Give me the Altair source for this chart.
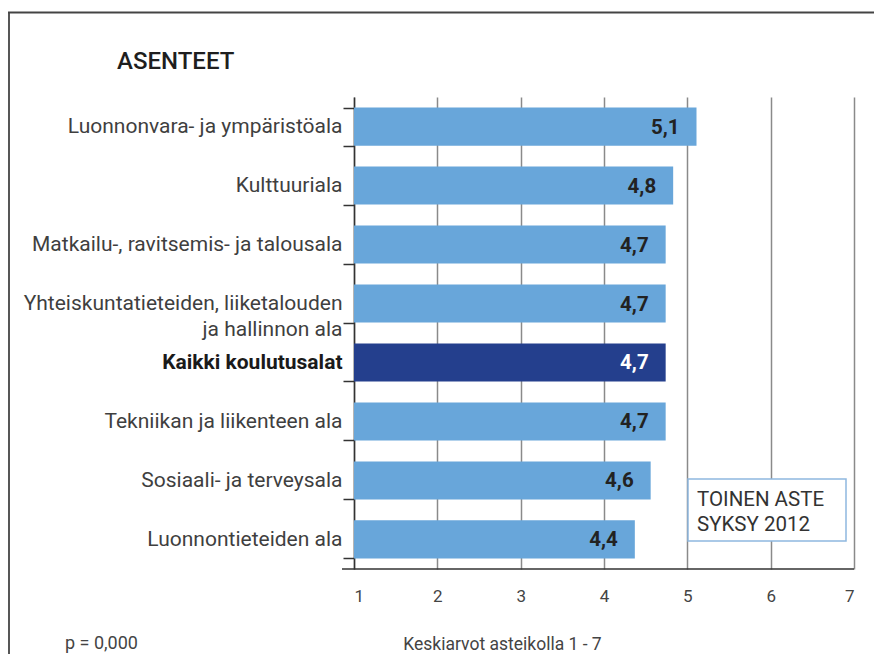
import altair as alt
import pandas as pd

# ---- data ----
categories = [
    "Luonnonvara- ja ympäristöala",
    "Kulttuuriala",
    "Matkailu-, ravitsemis- ja talousala",
    "Yhteiskuntatieteiden, liiketalouden|ja hallinnon ala",
    "Kaikki koulutusalat",
    "Tekniikan ja liikenteen ala",
    "Sosiaali- ja terveysala",
    "Luonnontieteiden ala",
]
values = [5.11, 4.83, 4.74, 4.74, 4.74, 4.74, 4.56, 4.37]
value_labels = ["5,1", "4,8", "4,7", "4,7", "4,7", "4,7", "4,6", "4,4"]
group = ["ala", "ala", "ala", "ala", "kaikki", "ala", "ala", "ala"]
x_ticks = [1, 2, 3, 4, 5, 6, 7]

title_text = "ASENTEET"
x_title = "Keskiarvot asteikolla 1 - 7"
p_text = "p = 0,000"
box_lines = ["TOINEN ASTE", "SYKSY 2012"]

df = pd.DataFrame({
    "ala": categories,
    "arvo": values,
    "teksti": value_labels,
    "ryhma": group,
})

FONT = "Roboto"
W, H = 500, 472

y_enc = alt.Y(
    "ala:N",
    sort=categories,
    title=None,
    scale=alt.Scale(paddingInner=0.355, paddingOuter=0.18),
    axis=alt.Axis(
        domainColor="#333333",
        domainWidth=1.5,
        tickBand="extent",
        tickSize=11,
        tickColor="#333333",
        tickWidth=1.5,
        labelPadding=1,
        labelFontSize=21,
        labelFont=FONT,
        labelColor={"condition": {"test": "datum.value == 'Kaikki koulutusalat'", "value": "#1a1a1a"}, "value": "#3f3f3f"},
        labelFontWeight={"condition": {"test": "datum.value == 'Kaikki koulutusalat'", "value": "bold"}, "value": "normal"},
        labelExpr="isValid(datum.value) ? split(datum.value, '|') : ''",
        labelLineHeight=26,
        labelLimit=400,
        grid=False,
    ),
)

x_enc = alt.X(
    "arvo:Q",
    title=x_title,
    scale=alt.Scale(domain=[1, 7], nice=False, zero=False),
    axis=alt.Axis(
        values=x_ticks,
        format="d",
        ticks=False,
        domain=False,
        grid=True,
        gridColor="#8a8a8a",
        gridWidth=1.5,
        labelFontSize=17,
        labelFont=FONT,
        labelColor="#444444",
        labelPadding=19,
        titleFont=FONT,
        titleFontSize=17.5,
        titleFontWeight="normal",
        titleColor="#444444",
        titleX=148,
        titleY=80,
        titleAlign="center",
        titleBaseline="alphabetic",
    ),
)

bars = alt.Chart(df).mark_bar().encode(
    y=y_enc,
    x=x_enc,
    x2=alt.datum(1),
    color=alt.Color("ryhma:N", scale=alt.Scale(domain=["ala", "kaikki"], range=["#68a6da", "#243f8d"]), legend=None),
)

labels = alt.Chart(df).mark_text(
    align="right", baseline="middle", dx=-17, dy=1, fontSize=20.5, fontWeight="bold", font=FONT
).encode(
    y=alt.Y("ala:N", sort=categories),
    x=alt.X("arvo:Q"),
    text="teksti:N",
    color=alt.condition("datum.ryhma == 'kaikki'", alt.value("#ffffff"), alt.value("#222222")),
)

one = pd.DataFrame({"k": [0]})

xaxis_line = alt.Chart(one).mark_rule(color="#333333", strokeWidth=1.5).encode(
    x=alt.value(-12), x2=alt.value(W), y=alt.value(H)
)

title = alt.Chart(one).mark_text(
    text=title_text, align="left", baseline="alphabetic", fontSize=24, fontWeight=500, font=FONT, color="#1e1e1e"
).encode(x=alt.value(-237), y=alt.value(-28))

ptxt = alt.Chart(one).mark_text(
    text=p_text, align="left", baseline="alphabetic", fontSize=18, font=FONT, color="#444444"
).encode(x=alt.value(-289), y=alt.value(552))

box = alt.Chart(one).mark_rect(fill="white", stroke="#8fb8e0", strokeWidth=1.5).encode(
    x=alt.value(334), x2=alt.value(492), y=alt.value(382), y2=alt.value(444)
)
box_t1 = alt.Chart(one).mark_text(
    text=box_lines[0], align="left", baseline="alphabetic", fontSize=20.5, font=FONT, color="#333333"
).encode(x=alt.value(343), y=alt.value(409))
box_t2 = alt.Chart(one).mark_text(
    text=box_lines[1], align="left", baseline="alphabetic", fontSize=20.5, font=FONT, color="#333333"
).encode(x=alt.value(343), y=alt.value(434))

border_left = alt.Chart(one).mark_rule(color="#444444", strokeWidth=1.8).encode(
    x=alt.value(-345), y=alt.value(-85), y2=alt.value(570)
)
border_top = alt.Chart(one).mark_rule(color="#444444", strokeWidth=1.8).encode(
    x=alt.value(-346), x2=alt.value(540), y=alt.value(-84.5)
)

chart = alt.layer(
    bars, labels, xaxis_line, title, ptxt, box, box_t1, box_t2, border_left, border_top
).properties(
    width=W,
    height=H,
    padding={"left": 346, "top": 89, "right": 20, "bottom": 85},
    autosize=alt.AutoSizeParams(type="none"),
    background="white",
).configure_view(stroke=None)

chart.save("out.html", embed_options={"renderer": "svg", "actions": False})
